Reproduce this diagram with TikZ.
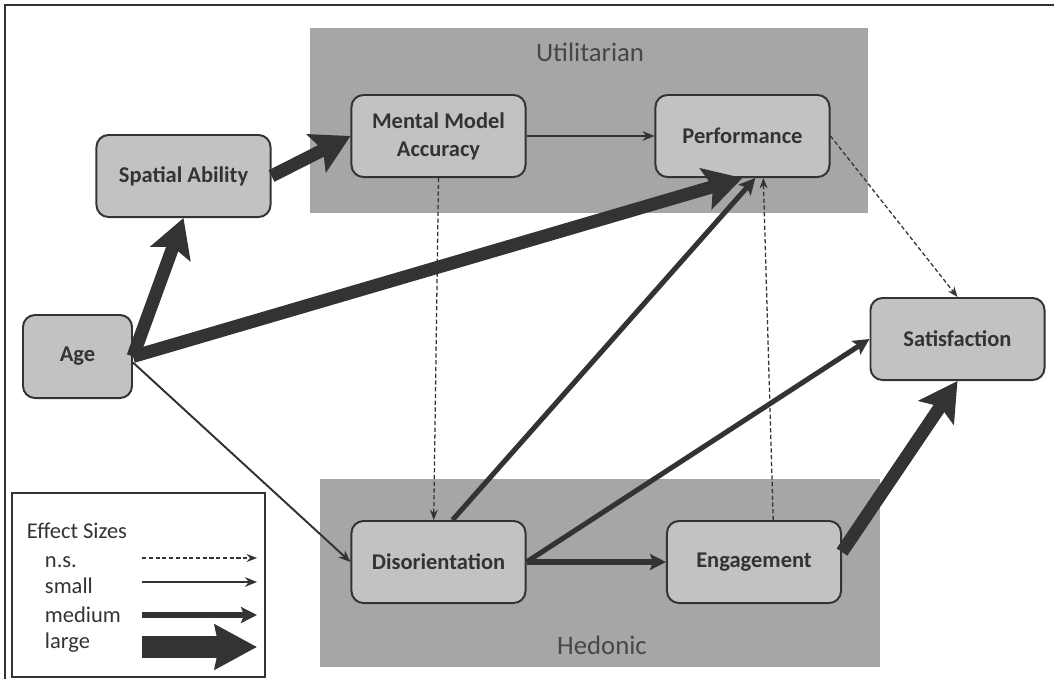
\documentclass[tikz,border=0pt]{standalone}
\usepackage{fontspec}
\setmainfont{Carlito}
\usepackage{xcolor}
\definecolor{boxFill}{gray}{0.76}
\definecolor{zoneFill}{gray}{0.65}
\definecolor{inkGray}{gray}{0.2}
\usepackage{tikz}
\usetikzlibrary{arrows.meta}

\tikzset{
  varbox/.style={draw=inkGray, line width=1.4pt, fill=boxFill, rounded corners=0.3cm,
    minimum width=4.35cm, minimum height=2.05cm, align=center, text=inkGray,
    font=\fontsize{16}{20}\selectfont\bfseries},
  zonelabel/.style={text=inkGray!90, font=\fontsize{19}{21}\selectfont},
  keylabel/.style={anchor=base west, text=inkGray, font=\fontsize{16}{18}\selectfont},
  ns arrow/.style={draw=inkGray, line width=0.9pt, dash pattern=on 3pt off 1.8pt,
    -{Stealth[length=0.26cm, width=0.2cm]}},
  small arrow/.style={draw=inkGray, line width=1.4pt, -{Stealth[length=0.3cm, width=0.24cm]}},
  med arrow/.style={draw=inkGray, line width=3.6pt, -{Stealth[length=0.4cm, width=0.4cm, inset=0.08cm]}},
  large arrow/.style={draw=inkGray, line width=9.2pt, -{Stealth[length=0.95cm, width=1.05cm, inset=0.18cm]}}
}

\begin{document}
\begin{tikzpicture}[x=0.025cm, y=-0.025cm]
  \useasboundingbox (0,0) rectangle (1054,679);
  \draw[inkGray, line width=1pt] (5,679) -- (5,5) -- (1054,5);
  % groups
  \fill[zoneFill] (310,28) rectangle (868,213);
  \fill[zoneFill] (320,479) rectangle (880,667);
  \node[zonelabel] (util) at (590,52) {Utilitarian};
  \node[zonelabel] (hedo) at (602,645) {Hedonic};

  \node[varbox, minimum width=2.725cm, minimum height=2.075cm] (age) at (77.5,356.5) {Age};
  \node[varbox] (spatial) at (183.5,176) {Spatial Ability};
  \node[varbox] (mma) at (438.5,136) {Mental Model\\Accuracy};
  \node[varbox] (perf) at (742.5,136) {Performance};
  \node[varbox] (sat) at (957.5,339) {Satisfaction};
  \node[varbox] (dis) at (438.5,562) {Disorientation};
  \node[varbox] (eng) at (754,562) {Engagement};

  \draw[small arrow] (mma.east) -- (perf.west);
  \draw[ns arrow] (mma.south) -- ([xshift=-0.12cm]dis.north);
  \draw[ns arrow] ([xshift=0.48cm]eng.north) -- ([xshift=0.52cm]perf.south);
  \draw[ns arrow] (perf.east) -- (sat.north);
  \draw[small arrow] ([yshift=-0.15cm]age.east) -- (dis.west);
  \draw[med arrow] (dis.east) -- (eng.west);
  \draw[med arrow] (dis.east) -- (sat.west);
  \draw[med arrow] ([xshift=0.35cm]dis.north) -- ([xshift=0.32cm]perf.south);
  \draw[large arrow] (age.east) -- (spatial.south);
  \draw[large arrow] (age.east) -- (perf.south);
  \draw[large arrow] (spatial.east) -- (mma.west);
  \draw[large arrow] ([yshift=0.25cm]eng.east) -- (sat.south);

  % key
  \draw[inkGray, line width=0.8pt, fill=white] (12,493) rectangle (265,677);
  \node[keylabel] (keytitle) at (22,538) {Effect Sizes};
  \foreach \k/\t/\y/\b in {ns/n.s./558/567, small/small/582/593, med/medium/615/622} {
    \node[keylabel] (\k label) at (40,\b) {\t};
    \coordinate (\k a) at (142,\y);
    \coordinate (\k b) at (257,\y);
    \draw[\k\space arrow] (\k a) -- (\k b);
  }
  \node[keylabel] (large label) at (40,648) {large};
  \coordinate (large a) at (142,647);
  \coordinate (large b) at (257,647);
  \draw[large arrow, line width=0.55cm, -{Stealth[length=1.05cm, width=1.1cm, inset=0.1cm]}] (large a) -- (large b);
\end{tikzpicture}
\end{document}
